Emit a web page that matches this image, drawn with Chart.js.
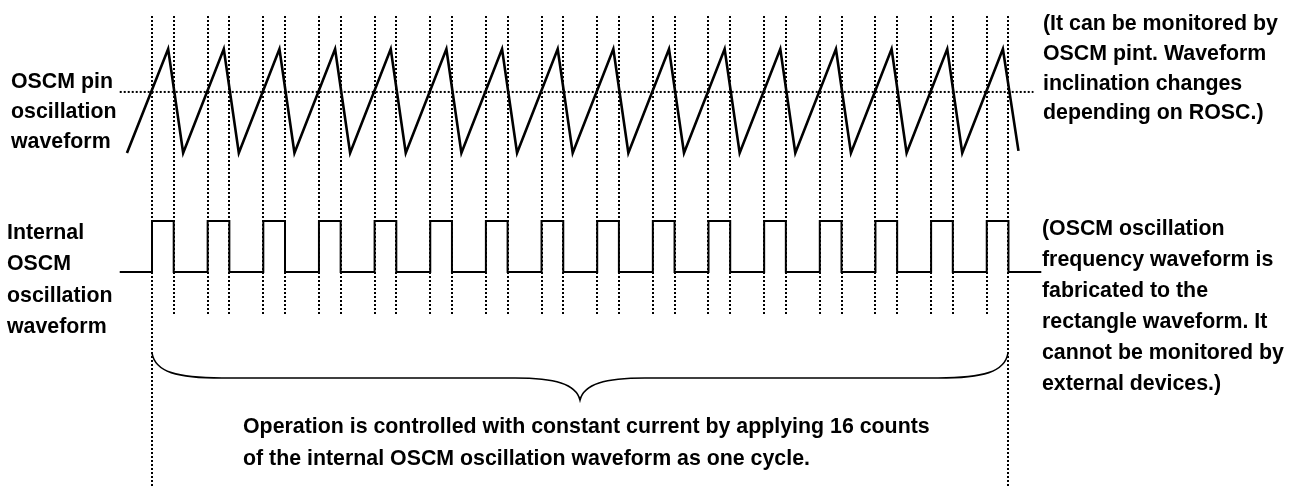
<!DOCTYPE html>
<html>
<head>
<meta charset="utf-8">
<script src="https://cdn.jsdelivr.net/npm/chart.js@4"></script>
<style>
  body { margin: 0; background: #fff; }
  #wrap { width: 1299px; height: 486px; position: relative; }
</style>
</head>
<body>
<div id="wrap"><canvas id="timingChart"></canvas></div>
<script>
// Time axis: 1 unit = one OSCM period, 0 = first rising edge of the internal clock
var risingEdges  = [0, 1, 2, 3, 4, 5, 6, 7, 8, 9, 10, 11, 12, 13, 14, 15];
var fallingEdges = [0.39, 1.39, 2.39, 3.39, 4.39, 5.39, 6.39, 7.39, 8.39, 9.39, 10.39, 11.39, 12.39, 13.39, 14.39, 15.39];
var clockSpan = [-0.58, 15.98];

// OSCM pin sawtooth: level 0 = bottom, 1 = top
var sawPeaks   = [0.29, 1.29, 2.29, 3.29, 4.29, 5.29, 6.29, 7.29, 8.29, 9.29, 10.29, 11.29, 12.29, 13.29, 14.29, 15.29];
var sawTroughs = [0.56, 1.56, 2.56, 3.56, 4.56, 5.56, 6.56, 7.56, 8.56, 9.56, 10.56, 11.56, 12.56, 13.56, 14.56];
var sawStart = [-0.45, 0];
var sawEnd   = [15.57, 0.02];
var threshold = 0.587;
var thresholdSpan = [-0.58, 15.84];

// Texts
var pinLabel = ['OSCM pin', 'oscillation', 'waveform'];
var clockLabel = ['Internal', 'OSCM', 'oscillation', 'waveform'];
var pinNote = ['(It can be monitored by', 'OSCM pint. Waveform', 'inclination changes', 'depending on ROSC.)'];
var clockNote = ['(OSCM oscillation', 'frequency waveform is', 'fabricated to the', 'rectangle waveform. It', 'cannot be monitored by', 'external devices.)'];
var braceNote = ['Operation is controlled with constant current by applying 16 counts', 'of the internal OSCM oscillation waveform as one cycle.'];

var W = 1299, H = 486;
var originPx = 152, pxPerPeriod = 55.65;

// y axis range so that level 0 / level 1 land at the given pixel rows
function placeAxis(lowPx, highPx) {
    var per = lowPx - highPx;
    return { type: 'linear', display: false, min: -(H - lowPx) / per, max: lowPx / per };
}

// build sawtooth vertices
var sawPoints = [{x: sawStart[0], y: sawStart[1]}];
for (var i = 0; i < sawPeaks.length; i++) {
    sawPoints.push({x: sawPeaks[i], y: 1});
    if (i < sawTroughs.length) sawPoints.push({x: sawTroughs[i], y: 0});
}
sawPoints.push({x: sawEnd[0], y: sawEnd[1]});

// build square wave from edges
var clockPoints = [{x: clockSpan[0], y: 0}];
for (var k = 0; k < risingEdges.length; k++) {
    clockPoints.push({x: risingEdges[k], y: 0});
    clockPoints.push({x: risingEdges[k], y: 1});
    clockPoints.push({x: fallingEdges[k], y: 1});
    clockPoints.push({x: fallingEdges[k], y: 0});
}
clockPoints.push({x: clockSpan[1], y: 0});

var FONT = 'bold 21.35px "Liberation Sans", Arial, sans-serif';

function drawLines(ctx, lines, x, y0, step) {
    lines.forEach(function (t, i) { ctx.fillText(t, x, y0 + i * step); });
}

var decorPlugin = {
    id: 'decor',
    beforeDatasetsDraw: function (chart) {
        var ctx = chart.ctx, xs = chart.scales.x;
        var first = risingEdges[0], last = fallingEdges[fallingEdges.length - 1];
        ctx.save();
        ctx.strokeStyle = '#000';
        ctx.lineWidth = 2;
        ctx.setLineDash([2, 2]);
        risingEdges.concat(fallingEdges).forEach(function (t) {
            var x = Math.round(xs.getPixelForValue(t));
            var bottom = (t === first || t === last) ? H : 314;
            ctx.beginPath();
            ctx.moveTo(x, 16);
            ctx.lineTo(x, bottom);
            ctx.stroke();
        });
        ctx.restore();
    },
    afterDraw: function (chart) {
        var ctx = chart.ctx, xs = chart.scales.x;
        var x0 = Math.round(xs.getPixelForValue(risingEdges[0]));
        var x1 = Math.round(xs.getPixelForValue(fallingEdges[fallingEdges.length - 1]));
        var xm = (x0 + x1) / 2;
        var top = 353, flat = 378, tip = 400;

        ctx.save();
        ctx.strokeStyle = '#000';
        ctx.lineWidth = 1.6;
        ctx.beginPath();
        ctx.moveTo(x0, top);
        ctx.bezierCurveTo(x0 + 3, flat - 6, x0 + 25, flat, x0 + 70, flat);
        ctx.lineTo(xm - 65, flat);
        ctx.bezierCurveTo(xm - 25, flat, xm - 4, flat + 6, xm, tip);
        ctx.bezierCurveTo(xm + 4, flat + 6, xm + 25, flat, xm + 65, flat);
        ctx.lineTo(x1 - 70, flat);
        ctx.bezierCurveTo(x1 - 25, flat, x1 - 3, flat - 6, x1, top);
        ctx.stroke();

        ctx.fillStyle = '#000';
        ctx.font = FONT;
        ctx.textBaseline = 'alphabetic';
        ctx.textAlign = 'left';
        drawLines(ctx, pinLabel, 11, 88, 30);
        drawLines(ctx, clockLabel, 7, 239, 31.3);
        drawLines(ctx, pinNote, 1043, 30, 29.8);
        drawLines(ctx, clockNote, 1042, 235, 31);
        drawLines(ctx, braceNote, 243, 433, 32);
        ctx.restore();
    }
};

new Chart(document.getElementById('timingChart'), {
    type: 'scatter',
    data: {
        datasets: [{
            label: 'OSCM pin',
            data: sawPoints,
            yAxisID: 'ySaw',
            showLine: true,
            borderColor: '#000',
            borderWidth: 2.6,
            pointRadius: 0
        }, {
            label: 'threshold',
            data: [{x: thresholdSpan[0], y: threshold}, {x: thresholdSpan[1], y: threshold}],
            yAxisID: 'ySaw',
            showLine: true,
            borderColor: '#000',
            borderWidth: 2,
            borderDash: [2, 2],
            pointRadius: 0
        }, {
            label: 'Internal OSCM',
            data: clockPoints,
            yAxisID: 'yClk',
            showLine: true,
            borderColor: '#000',
            borderWidth: 2,
            pointRadius: 0
        }]
    },
    options: {
        responsive: true,
        maintainAspectRatio: false,
        animation: false,
        events: [],
        layout: { padding: 0 },
        plugins: { legend: { display: false }, tooltip: { enabled: false } },
        scales: {
            x: { type: 'linear', display: false, min: -originPx / pxPerPeriod, max: (W - originPx) / pxPerPeriod },
            ySaw: placeAxis(153, 49),
            yClk: placeAxis(272, 221)
        }
    },
    plugins: [decorPlugin]
});
</script>
</body>
</html>
